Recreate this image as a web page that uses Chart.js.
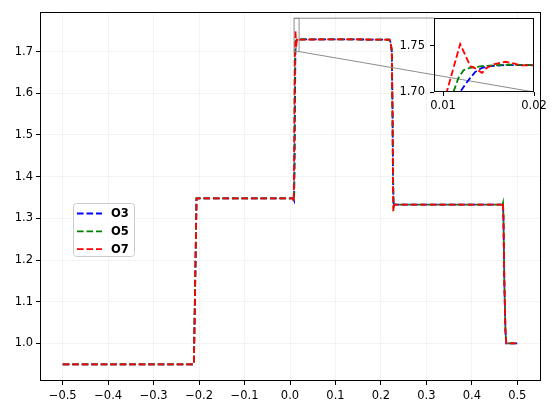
<!DOCTYPE html>
<html><head><meta charset="utf-8">
<script src="https://cdn.jsdelivr.net/npm/chart.js@4/dist/chart.umd.min.js"></script>
<style>
html,body{margin:0;padding:0;background:#fff;}
#wrap{position:relative;width:553px;height:415px;}
#wrap canvas{position:absolute;left:0;top:0;}
</style></head><body>
<div id="wrap"><canvas id="main" width="553" height="415"></canvas><canvas id="inset" width="553" height="415"></canvas></div>
<script>
// ---- data ----
const seriesLabels = ['O3', 'O5', 'O7'];
const seriesColors = ['#0000ff', '#008000', '#ff0000'];

const xO3 = [-0.5, -0.2115, -0.2056, 0.0070, 0.0090, 0.0100, 0.0110, 0.01188, 0.01243, 0.01299, 0.01354, 0.01428, 0.0152, 0.01686, 0.0200, 0.11, 0.2187, 0.2215, 0.2240, 0.2257, 0.2267, 0.2280, 0.2300, 0.4676, 0.4686, 0.4696, 0.4715, 0.4740, 0.4758, 0.5];
const yO3 = [0.95, 0.95, 1.348, 1.348, 1.343, 1.42, 1.58, 1.70, 1.708, 1.7153, 1.7218, 1.7262, 1.728, 1.7291, 1.7291, 1.7295, 1.7285, 1.722, 1.70, 1.55, 1.40, 1.328, 1.333, 1.333, 1.337, 1.30, 1.15, 1.03, 1.0, 1.0];

const xO5 = [-0.5, -0.2115, -0.2056, 0.0068, 0.0085, 0.0095, 0.0104, 0.01114, 0.01169, 0.01225, 0.01299, 0.01428, 0.01612, 0.01723, 0.0200, 0.11, 0.2187, 0.2215, 0.2240, 0.2255, 0.2265, 0.2278, 0.2298, 0.4676, 0.4686, 0.4696, 0.4715, 0.4740, 0.4758, 0.5];
const yO5 = [0.95, 0.95, 1.348, 1.348, 1.342, 1.42, 1.58, 1.70, 1.7153, 1.7236, 1.7262, 1.728, 1.7291, 1.7295, 1.7291, 1.7295, 1.7285, 1.722, 1.70, 1.55, 1.40, 1.326, 1.333, 1.333, 1.337, 1.30, 1.15, 1.03, 1.0, 1.0];

const xO7 = [-0.5, -0.2115, -0.2056, 0.0065, 0.0080, 0.0088, 0.0096, 0.0104, 0.01188, 0.01299, 0.01354, 0.01428, 0.01483, 0.01557, 0.01686, 0.01778, 0.01852, 0.0200, 0.11, 0.2187, 0.2215, 0.2240, 0.2255, 0.2265, 0.2275, 0.2295, 0.4676, 0.4686, 0.4696, 0.4715, 0.4740, 0.4758, 0.5];
const yO7 = [0.95, 0.95, 1.348, 1.348, 1.340, 1.40, 1.55, 1.70, 1.7518, 1.728, 1.7255, 1.7207, 1.7262, 1.7298, 1.7327, 1.7309, 1.7287, 1.7287, 1.7295, 1.7285, 1.722, 1.70, 1.55, 1.40, 1.318, 1.333, 1.333, 1.3375, 1.30, 1.15, 1.03, 1.0, 1.0];

const xTicks = [-0.5, -0.4, -0.3, -0.2, -0.1, 0.0, 0.1, 0.2, 0.3, 0.4, 0.5];
const yTicks = [1.0, 1.1, 1.2, 1.3, 1.4, 1.5, 1.6, 1.7];
const xRange = [-0.55, 0.55];
const yRange = [0.91, 1.795];

const insetXTicks = [0.01, 0.02];
const insetYTicks = [1.70, 1.75];
const insetXRange = [0.009, 0.02];
const insetYRange = [1.70, 1.78];

// ---- setup ----
Chart.defaults.font.family = "'DejaVu Sans', sans-serif";
Chart.defaults.font.size = 11.5;
Chart.defaults.color = '#000';

const DASH = [6.6, 2.9];
function buildDatasets(clip) {
  const xs = [xO3, xO5, xO7], ys = [yO3, yO5, yO7];
  return xs.map((xa, i) => ({
    label: seriesLabels[i],
    data: xa.map((x, j) => ({ x: x, y: ys[i][j] })),
    borderColor: seriesColors[i],
    backgroundColor: seriesColors[i],
    borderWidth: 1.8,
    borderDash: DASH,
    borderCapStyle: 'butt',
    borderJoinStyle: 'miter',
    pointRadius: 0,
    fill: false,
    tension: 0,
    clip: clip,
    order: xs.length - 1 - i
  }));
}
const fmtSigned = (v, d) => { const s = Math.abs(v) < 1e-9 ? (0).toFixed(d) : v.toFixed(d); return s.replace('-', '\u2212'); };

const mainDeco = {
  id: 'mainDeco',
  afterDraw(chart) {
    const { ctx, chartArea: ca } = chart;
    ctx.save();
    ctx.setLineDash([]);
    ctx.strokeStyle = '#000';
    ctx.lineWidth = 1;
    const L = Math.floor(ca.left) + 0.5, T = Math.floor(ca.top) + 0.5;
    const R = Math.floor(ca.right) + 0.5, B = Math.floor(ca.bottom) - 0.5;
    ctx.strokeRect(L, T, R - L, B - T);
    // legend
    const lx = ca.left + 33, ly = ca.top + 191, lw = 61, lh = 53;
    ctx.beginPath();
    ctx.roundRect(lx + 0.5, ly + 0.5, lw, lh, 3);
    ctx.fillStyle = 'rgba(255,255,255,0.8)';
    ctx.fill();
    ctx.strokeStyle = '#cccccc';
    ctx.stroke();
    chart.data.datasets.forEach((ds, i) => {
      const yy = ly + 10.5 + i * 17.8;
      ctx.beginPath();
      ctx.setLineDash(DASH);
      ctx.strokeStyle = ds.borderColor;
      ctx.lineWidth = 1.8;
      ctx.moveTo(lx + 4, yy);
      ctx.lineTo(lx + 29, yy);
      ctx.stroke();
      ctx.setLineDash([]);
      ctx.fillStyle = '#000';
      ctx.font = "bold 11.5px 'DejaVu Sans', sans-serif";
      ctx.textBaseline = 'middle';
      ctx.textAlign = 'left';
      ctx.fillText(ds.label, lx + 38, yy + 0.5);
    });
    ctx.restore();
  }
};

const mainChart = new Chart(document.getElementById('main'), {
  type: 'line',
  data: { datasets: buildDatasets(undefined) },
  options: {
    responsive: false, devicePixelRatio: 1, animation: false, events: [],
    layout: { padding: { left: 0, top: 12, right: 13, bottom: 0 } },
    plugins: { legend: { display: false }, tooltip: { enabled: false } },
    scales: {
      x: {
        type: 'linear', min: xRange[0], max: xRange[1],
        afterBuildTicks: s => { s.ticks = xTicks.map(v => ({ value: v })); },
        afterFit: s => { s.height = 34; },
        ticks: { callback: v => fmtSigned(v, 1), padding: 4, maxRotation: 0, autoSkip: false },
        grid: { color: '#f0f0f0', lineWidth: 0.8, tickColor: '#000', tickLength: 4, tickWidth: 1 },
        border: { display: false }
      },
      y: {
        type: 'linear', min: yRange[0], max: yRange[1],
        afterBuildTicks: s => { s.ticks = yTicks.map(v => ({ value: v })); },
        afterFit: s => { s.width = 40; },
        ticks: { callback: v => v.toFixed(1), padding: 3, autoSkip: false },
        grid: { color: '#f0f0f0', lineWidth: 0.8, tickColor: '#000', tickLength: 4, tickWidth: 1 },
        border: { display: false }
      }
    }
  },
  plugins: [mainDeco]
});

// inset placement (axes fractions of the main plot area)
const insetFrac = { x0: 0.788, x1: 0.988, y0: 0.784, y1: 0.983 };
const mca = mainChart.chartArea;
const mW = mca.right - mca.left, mH = mca.bottom - mca.top;
const iLeft = Math.round(mca.left + insetFrac.x0 * mW);
const iRight = Math.round(mca.left + insetFrac.x1 * mW);
const iTop = Math.round(mca.bottom - insetFrac.y1 * mH);
const iBottom = Math.round(mca.bottom - insetFrac.y0 * mH);

const insetDeco = {
  id: 'insetDeco',
  beforeDraw(chart) {
    const { ctx, chartArea: ca } = chart;
    ctx.save();
    ctx.fillStyle = '#fff';
    ctx.fillRect(ca.left, ca.top, ca.right - ca.left, ca.bottom - ca.top);
    ctx.restore();
  },
  beforeDatasetsDraw(chart) {
    const { ctx, chartArea: ca } = chart;
    const sx = mainChart.scales.x, sy = mainChart.scales.y;
    const rx0 = sx.getPixelForValue(insetXRange[0]), rx1 = sx.getPixelForValue(insetXRange[1]);
    const ry0 = sy.getPixelForValue(insetYRange[0]), ry1 = sy.getPixelForValue(insetYRange[1]);
    ctx.save();
    ctx.strokeStyle = '#8c8c8c';
    ctx.lineWidth = 1;
    ctx.setLineDash([]);
    ctx.strokeRect(rx0, ry1, rx1 - rx0, ry0 - ry1);
    ctx.beginPath();
    ctx.moveTo(rx0, ry1); ctx.lineTo(ca.left, ca.top);
    ctx.moveTo(rx1, ry0); ctx.lineTo(ca.right, ca.bottom);
    ctx.stroke();
    ctx.restore();
  },
  afterDraw(chart) {
    const { ctx, chartArea: ca } = chart;
    ctx.save();
    ctx.strokeStyle = '#000';
    ctx.lineWidth = 1;
    ctx.setLineDash([]);
    const L = Math.floor(ca.left) + 0.5, T = Math.floor(ca.top) + 0.5;
    const R = Math.floor(ca.right) - 0.5, B = Math.floor(ca.bottom) - 0.5;
    ctx.strokeRect(L, T, R - L, B - T);
    ctx.restore();
  }
};

new Chart(document.getElementById('inset'), {
  type: 'line',
  data: { datasets: buildDatasets(0) },
  options: {
    responsive: false, devicePixelRatio: 1, animation: false, events: [],
    layout: { padding: { left: iLeft - 40, top: iTop, right: 553 - iRight, bottom: 415 - iBottom - 20 } },
    plugins: { legend: { display: false }, tooltip: { enabled: false } },
    scales: {
      x: {
        type: 'linear', min: insetXRange[0], max: insetXRange[1],
        afterBuildTicks: s => { s.ticks = insetXTicks.map(v => ({ value: v })); },
        afterFit: s => { s.height = 20; },
        ticks: { callback: v => v.toFixed(2), padding: 3, maxRotation: 0, autoSkip: false },
        grid: { drawOnChartArea: false, color: '#000', tickColor: '#000', tickLength: 4, tickWidth: 1 },
        border: { display: false }
      },
      y: {
        type: 'linear', min: insetYRange[0], max: insetYRange[1],
        afterBuildTicks: s => { s.ticks = insetYTicks.map(v => ({ value: v })); },
        afterFit: s => { s.width = 40; },
        ticks: { callback: v => v.toFixed(2), padding: 5, autoSkip: false },
        grid: { drawOnChartArea: false, color: '#000', tickColor: '#000', tickLength: 4, tickWidth: 1 },
        border: { display: false }
      }
    }
  },
  plugins: [insetDeco]
});
</script>
</body></html>
